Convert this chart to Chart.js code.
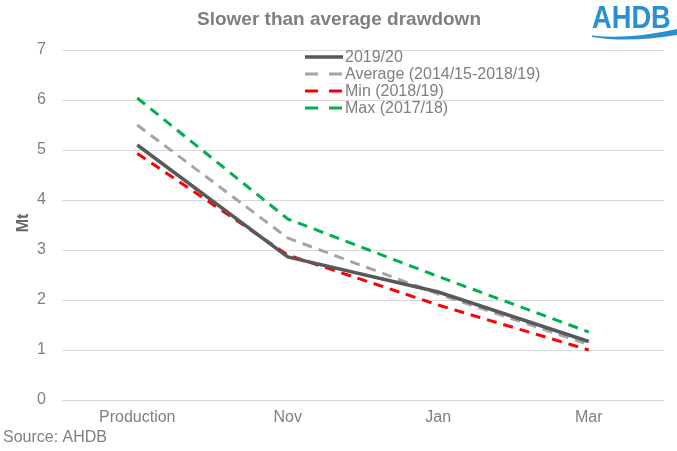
<!DOCTYPE html>
<html>
  <head>
    <title>Slower than average drawdown</title>
    <script src="https://cdn.jsdelivr.net/npm/chart.js"></script>
    <style>
      body { margin: 0; background: #fff; }
      #wrap { width: 677px; height: 451px; }
    </style>
  </head>
  <body>
    <div id="wrap"><canvas id="drawdown" width="677" height="451"></canvas></div>
    <script>
      var months = ['Production', 'Nov', 'Jan', 'Mar'];
      var current = [5.1, 2.86, 2.16, 1.17];
      var average = [5.5, 3.24, 2.12, 1.11];
      var minYear = [4.93, 2.9, 1.9, 1.0];
      var maxYear = [6.04, 3.62, 2.47, 1.36];
      var yTicks = [0, 1, 2, 3, 4, 5, 6, 7];

      var grey = '#7f7f7f';
      var font = 'Liberation Sans, Arial, sans-serif';

      // title, legend, axis label, source and logo are drawn by hand
      var extras = {
        id: 'extras',
        afterDraw: function (chart) {
          var c = chart.ctx;
          c.save();
          c.setLineDash([]);
          c.fillStyle = grey;
          c.textBaseline = 'middle';
          c.textAlign = 'center';
          c.font = 'bold 19px ' + font;
          c.fillText('Slower than average drawdown', 339, 20);

          c.textAlign = 'left';
          c.font = '16px ' + font;
          c.fillText('Source: AHDB', 3, 438);

          c.save();
          c.translate(24, 223);
          c.rotate(-Math.PI / 2);
          c.textAlign = 'center';
          c.font = 'bold 16px ' + font;
          c.fillStyle = '#666';
          c.fillText('Mt', 0, 0);
          c.restore();

          // legend
          chart.data.datasets.forEach(function (ds, i) {
            var y = 57 + i * 17;
            c.strokeStyle = ds.borderColor;
            c.lineWidth = ds.borderWidth;
            c.beginPath();
            if (ds.borderDash.length) {
              c.moveTo(305, y); c.lineTo(318, y);
              c.moveTo(329, y); c.lineTo(342, y);
            } else {
              c.moveTo(305, y); c.lineTo(343, y);
            }
            c.stroke();
            c.fillStyle = grey;
            c.font = '16px ' + font;
            c.fillText(ds.label, 345, y + 1);
          });

          // logo
          c.fillStyle = '#2b8fd3';
          c.save();
          c.translate(592, 28);
          c.scale(0.88, 1);
          c.font = 'bold 31px ' + font;
          c.textAlign = 'left';
          c.textBaseline = 'alphabetic';
          c.fillText('AHDB', 0, 0);
          c.restore();
          c.beginPath();
          c.moveTo(592, 35.5);
          c.quadraticCurveTo(628, 40, 677, 29);
          c.lineTo(677, 35);
          c.quadraticCurveTo(628, 43, 592, 37);
          c.closePath();
          c.fill();
          c.restore();
        }
      };

      function line(label, data, color, width, dash) {
        return {
          label: label,
          data: data,
          borderColor: color,
          backgroundColor: color,
          borderWidth: width,
          borderDash: dash,
          pointRadius: 0,
          tension: 0,
          fill: false
        };
      }

      new Chart(document.getElementById('drawdown'), {
        type: 'line',
        data: {
          labels: months,
          datasets: [
            line('2019/20', current, '#595959', 3.5, []),
            line('Average (2014/15-2018/19)', average, '#a5a5a5', 3, [10, 7]),
            line('Min (2018/19)', minYear, '#ff0000', 3, [10, 7]),
            line('Max (2017/18)', maxYear, '#00b050', 3, [10, 7])
          ]
        },
        options: {
          responsive: false,
          animation: false,
          layout: { padding: { top: 50, right: 13, bottom: 21, left: 0 } },
          plugins: {
            legend: { display: false },
            title: { display: false },
            tooltip: { enabled: false }
          },
          scales: {
            x: {
              offset: true,
              grid: { display: false, drawTicks: false },
              border: { display: false },
              ticks: { color: grey, padding: 8, font: { family: font, size: 16 } },
              afterFit: function (s) { s.height = 30; }
            },
            y: {
              min: 0,
              max: 7,
              afterBuildTicks: function (s) {
                s.ticks = yTicks.map(function (v) { return { value: v }; });
              },
              grid: { color: '#d9d9d9', drawTicks: false },
              border: { display: false },
              ticks: { color: grey, padding: 16, font: { family: font, size: 16 } },
              afterFit: function (s) { s.width = 62; }
            }
          }
        },
        plugins: [extras]
      });
    </script>
  </body>
</html>
